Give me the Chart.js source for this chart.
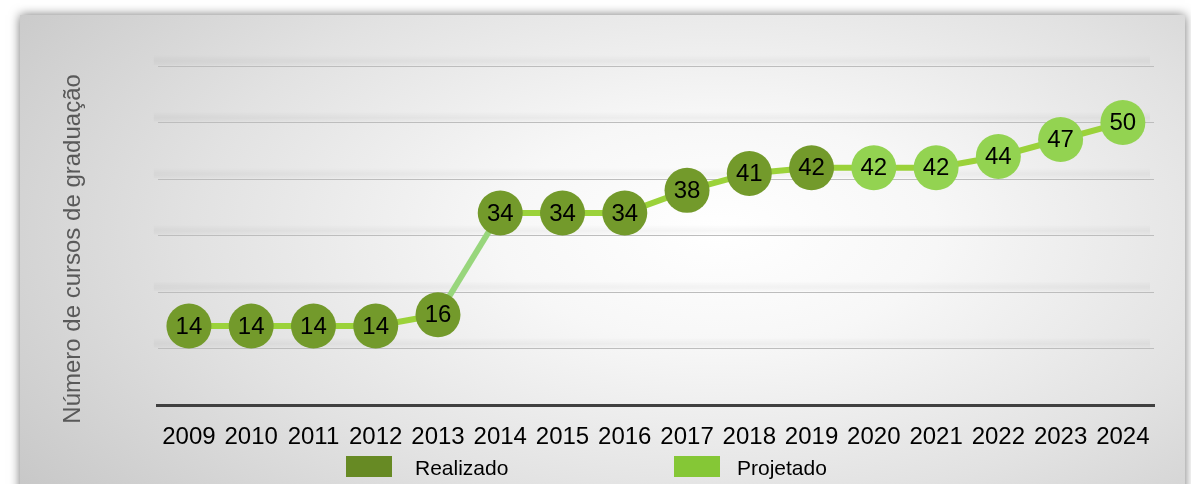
<!DOCTYPE html>
<html>
<head>
<meta charset="utf-8">
<script src="https://cdn.jsdelivr.net/npm/chart.js@4.4.1/dist/chart.umd.min.js"></script>
<style>
  html, body { margin: 0; padding: 0; background: #ffffff; width: 1191px; height: 484px; overflow: hidden; }
  #panel {
    position: absolute; left: 20px; top: 15px; width: 1165px; height: 480px;
    background: radial-gradient(ellipse 75% 95% at 60% 45%, #ffffff 0%, #f7f7f7 25%, #e2e2e2 60%, #c6c6c6 100%);
    box-shadow: 0 0 10px rgba(0,0,0,0.55);
  }
  #c { position: absolute; left: 0; top: 0; }
  .lg { position: absolute; font-family: "Liberation Sans", Arial, sans-serif; font-size: 21px; color: #000; line-height: 21px; }
  .sw { position: absolute; width: 46px; height: 21px; }
</style>
</head>
<body>
<div id="panel"></div>
<canvas id="c" width="1191" height="484"></canvas>
<div class="sw" style="left:346px; top:456px; background:#678A24;"></div>
<div class="lg" style="left:415px; top:457px;">Realizado</div>
<div class="sw" style="left:674px; top:456px; background:#85C736;"></div>
<div class="lg" style="left:737px; top:457px;">Projetado</div>
<script>
const years = ['2009','2010','2011','2012','2013','2014','2015','2016','2017','2018','2019','2020','2021','2022','2023','2024'];
const cursos = [14, 14, 14, 14, 16, 34, 34, 34, 38, 41, 42, 42, 42, 44, 47, 50];
const tipo = ['R','R','R','R','R','R','R','R','R','R','R','P','P','P','P','P'];
const yTicks = [0, 10, 20, 30, 40, 50, 60];
const yTitle = 'Número de cursos de graduação';

const DARK = '#739A2B';
const LIGHT = '#93D351';
const FONT = '"Liberation Sans", Arial, sans-serif';

const labelPlugin = {
  id: 'pointLabels',
  afterDatasetsDraw(chart) {
    const ctx = chart.ctx;
    const meta = chart.getDatasetMeta(0);
    ctx.save();
    ctx.font = '24px ' + FONT;
    ctx.fillStyle = '#000';
    ctx.textAlign = 'center';
    ctx.textBaseline = 'middle';
    meta.data.forEach((el, i) => {
      ctx.fillText(String(cursos[i]), el.x, el.y + 1);
    });
    ctx.restore();
  }
};

const gridShadow = {
  id: 'gridShadow',
  beforeDatasetsDraw(chart) {
    const ctx = chart.ctx;
    const ys = chart.scales.y;
    const a = chart.chartArea;
    ctx.save();
    yTicks.forEach(v => {
      if (v === 0) return;
      const y = ys.getPixelForValue(v);
      const g = ctx.createLinearGradient(0, y - 11, 0, y - 1);
      g.addColorStop(0, 'rgba(0,0,0,0)');
      g.addColorStop(0.6, 'rgba(0,0,0,0.035)');
      g.addColorStop(1, 'rgba(0,0,0,0.01)');
      ctx.fillStyle = g;
      ctx.fillRect(a.left - 4, y - 11, a.right - a.left, 10);
    });
    ctx.restore();
  }
};

new Chart(document.getElementById('c'), {
  type: 'line',
  data: {
    labels: years,
    datasets: [{
      data: cursos,
      borderColor: '#9BD23A',
      borderWidth: 6,
      segment: {
        borderColor: c => c.p0DataIndex === 4 ? '#98D67C' : '#9BD23A'
      },
      pointRadius: 22.5,
      pointHoverRadius: 22.5,
      pointBorderWidth: 0,
      pointBackgroundColor: tipo.map(t => t === 'R' ? DARK : LIGHT),
      tension: 0,
      clip: false
    }]
  },
  options: {
    responsive: false,
    animation: false,
    events: [],
    layout: { padding: { left: 59, top: 66, right: 37, bottom: 14 } },
    plugins: { legend: { display: false }, tooltip: { enabled: false } },
    scales: {
      x: {
        offset: true,
        grid: { display: false, drawTicks: false },
        border: { display: true, color: '#404040', width: 3 },
        ticks: { color: '#000', font: { family: FONT, size: 24 }, padding: 18, maxRotation: 0, autoSkip: false }
      },
      y: {
        min: yTicks[0], max: yTicks[yTicks.length - 1],
        afterBuildTicks: s => { s.ticks = yTicks.map(v => ({ value: v })); },
        grid: { color: '#BDBDBD', lineWidth: 1, drawTicks: false },
        border: { display: false },
        ticks: { display: false },
        title: { display: true, text: yTitle + '\u00A0\u00A0\u00A0\u00A0', color: '#595959', font: { family: FONT, size: 24 }, padding: { top: 0, bottom: 70 } }
      }
    }
  },
  plugins: [gridShadow, labelPlugin]
});
</script>
</body>
</html>
